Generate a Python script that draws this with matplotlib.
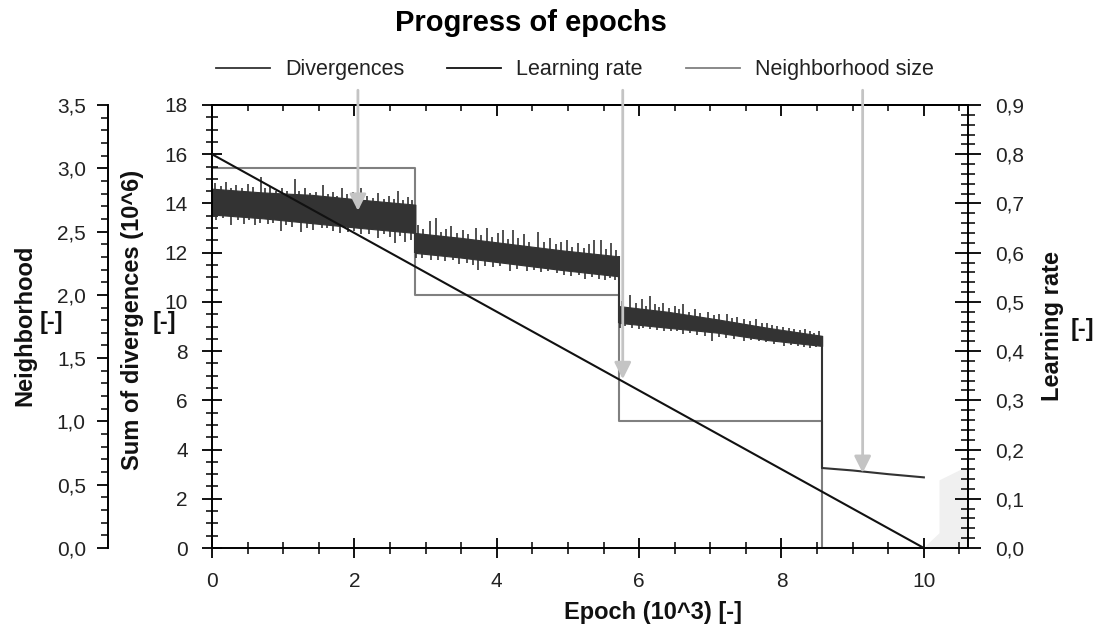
import numpy as np
import matplotlib
matplotlib.use("Agg")
import matplotlib.pyplot as plt
from matplotlib.ticker import MultipleLocator, FuncFormatter
from matplotlib.lines import Line2D

plt.rcParams['font.family'] = ['Liberation Sans', 'DejaVu Sans']

# ---------------- data ----------------
epoch_steps = [0.0, 2.857, 5.714, 8.571, 10.0]      # epoch (10^3)
neigh_levels = [3.0, 2.0, 1.0, 0.0, 0.0]            # neighborhood size

lr_epoch = [0.0, 10.0]
lr_values = [0.8, 0.0]

# divergences: noisy band (core envelope) per phase
seg1_x = [0.0, 0.7, 1.4, 2.1, 2.857]
seg1_hi = [14.6, 14.45, 14.35, 14.15, 13.95]
seg1_lo = [13.55, 13.4, 13.2, 13.0, 12.8]
seg2_x = [2.857, 3.5, 4.2, 4.9, 5.714]
seg2_hi = [12.8, 12.6, 12.35, 12.1, 11.85]
seg2_lo = [11.99, 11.8, 11.55, 11.3, 11.04]
seg3_x = [5.714, 6.4, 7.1, 7.8, 8.571]
seg3_hi = [9.83, 9.6, 9.29, 8.95, 8.62]
seg3_lo = [9.15, 8.95, 8.75, 8.45, 8.21]
seg4_x = [8.571, 9.0, 9.5, 10.0]
seg4_y = [3.25, 3.15, 3.0, 2.87]

# spikes (epoch, tip value)
spike_up_x = [0.04, 0.12, 0.2, 0.27, 0.34, 0.42, 0.5, 0.58, 0.69, 0.74, 0.82, 0.9, 0.98,
              1.06, 1.16, 1.22, 1.30, 1.38, 1.46, 1.56, 1.63, 1.70, 1.76, 1.82, 1.9, 1.98,
              2.04, 2.10, 2.18, 2.26, 2.33, 2.41, 2.48, 2.55, 2.61, 2.68, 2.75, 2.81,
              2.89, 2.96, 3.06, 3.15, 3.22, 3.29, 3.36, 3.44, 3.53, 3.6, 3.71, 3.78, 3.86,
              3.94, 4.02, 4.09, 4.16, 4.23, 4.3, 4.38, 4.46, 4.58, 4.66, 4.75, 4.83, 4.9,
              4.98, 5.06, 5.14, 5.22, 5.29, 5.36, 5.47, 5.54, 5.61, 5.68,
              5.76, 5.87, 5.95, 6.04, 6.1, 6.15, 6.22, 6.28, 6.34, 6.42, 6.5, 6.56, 6.62,
              6.7, 6.78, 6.85, 6.97, 7.05, 7.12, 7.23, 7.3, 7.38, 7.47, 7.56, 7.64, 7.72,
              7.8, 7.87, 7.94, 8.02, 8.1, 8.18, 8.26, 8.33, 8.4, 8.45, 8.52]
spike_up_y = [14.85, 14.72, 14.86, 14.64, 14.74, 14.62, 14.77, 14.65, 15.09, 14.63, 14.71, 14.52, 14.63,
              14.51, 14.99, 14.50, 14.62, 14.41, 14.47, 14.73, 14.38, 14.46, 14.30, 14.64, 14.37, 14.45,
              14.26, 14.62, 14.30, 14.24, 14.42, 14.17, 14.29, 14.20, 14.51, 14.14, 14.27, 14.16,
              13.13, 12.95, 13.27, 13.4, 12.85, 12.95, 13.07, 12.78, 12.93, 12.75, 13.0, 12.7, 13.0,
              12.62, 12.8, 12.93, 12.55, 12.93, 12.6, 12.75, 12.45, 12.86, 12.42, 12.59, 12.35, 12.45,
              12.53, 12.25, 12.4, 12.2, 12.35, 12.53, 12.53, 12.15, 12.39, 12.1,
              10.05, 10.3, 9.95, 10.1, 9.85, 10.23, 9.9, 9.8, 9.96, 9.75, 9.85, 9.7, 9.9,
              9.6, 9.7, 9.55, 9.6, 9.45, 9.5, 9.49, 9.35, 9.4, 9.3, 9.22, 9.3, 9.15,
              9.15, 9.05, 9.02, 9.0, 8.95, 8.9, 8.85, 8.9, 8.8, 8.75, 8.8]
spike_dn_x = [0.06, 0.15, 0.27, 0.36, 0.45, 0.52, 0.60, 0.68, 0.78, 0.86, 0.97, 1.04, 1.12,
              1.25, 1.33, 1.42, 1.54, 1.62, 1.7, 1.8, 1.91, 2.0, 2.10, 2.2, 2.33, 2.42, 2.5,
              2.57, 2.64, 2.71, 2.79,
              2.87, 2.95, 3.08, 3.18, 3.27, 3.39, 3.47, 3.58, 3.66, 3.74, 3.84, 3.95, 4.05,
              4.18, 4.28, 4.42, 4.52, 4.62, 4.72, 4.84, 4.95, 5.05, 5.15, 5.24, 5.34, 5.44,
              5.52, 5.59, 5.66,
              5.73, 5.8, 5.9, 6.0, 6.06, 6.15, 6.25, 6.35, 6.45, 6.53, 6.62, 6.72, 6.82,
              6.92, 7.02, 7.12, 7.22, 7.33, 7.47, 7.57, 7.68, 7.78, 7.9, 8.03, 8.13, 8.23,
              8.32, 8.40, 8.49]
spike_dn_y = [13.33, 13.39, 13.13, 13.31, 13.18, 13.31, 13.11, 13.22, 13.15, 13.20, 12.90, 13.13, 13.04,
              12.86, 13.02, 12.93, 13.0, 13.0, 12.90, 12.78, 12.85, 12.88, 12.75, 12.77, 12.6, 12.77, 12.64,
              12.39, 12.66, 12.45, 12.52,
              11.78, 11.8, 11.72, 11.7, 11.65, 11.72, 11.55, 11.6, 11.5, 11.31, 11.45, 11.4, 11.45,
              11.25, 11.35, 11.25, 11.3, 11.2, 11.25, 11.18, 11.1, 11.05, 11.1, 10.91, 11.0, 10.95,
              10.9, 10.97, 10.9,
              8.95, 9.02, 8.95, 8.9, 8.95, 8.88, 8.85, 8.82, 8.8, 8.82, 8.7, 8.72, 8.65,
              8.6, 8.41, 8.58, 8.55, 8.5, 8.41, 8.45, 8.4, 8.35, 8.3, 8.21, 8.25, 8.2,
              8.18, 8.14, 8.15]

# annotation arrows (epoch, divergence-scale tip)
arrow_x = [2.05, 5.77, 9.14]
arrow_tip = [13.7, 6.86, 3.05]

# light grey patch at lower right
patch_x = [10.0, 10.22, 10.22, 10.55, 10.62, 10.62]
patch_y = [0.0, 0.6, 2.75, 3.22, 3.22, 0.0]

legend_labels = ["Divergences", "Learning rate", "Neighborhood size"]

# ---------------- figure ----------------
W, H = 1103, 636
fig = plt.figure(figsize=(W / 100, H / 100), dpi=100)
L, R, T, B = 212, 968, 105, 548
ax = fig.add_axes([L / W, 1 - B / H, (R - L) / W, (B - T) / H])
ax.set_xlim(0, 10.62)
ax.set_ylim(0, 18)

ax_n = ax.twinx()
ax_n.set_ylim(0, 3.5)
ax_lr = ax.twinx()
ax_lr.set_ylim(0, 0.9)

ax_n.set_zorder(0)
ax.set_zorder(1)
ax_lr.set_zorder(2)
ax.patch.set_visible(False)
ax_n.patch.set_visible(True)
ax_n.patch.set_facecolor('white')

def comma(fmt):
    return FuncFormatter(lambda v, p: fmt.format(v).replace('.', ','))

tick_color = '#222222'
lab_size = 15

# main axis (divergences)
ax.spines['right'].set_visible(False)
for s in ['left', 'top', 'bottom']:
    ax.spines[s].set_linewidth(1.4)
ax.yaxis.set_major_locator(MultipleLocator(2))
ax.yaxis.set_minor_locator(MultipleLocator(0.5))
ax.yaxis.set_major_formatter(comma("{:.0f}"))
ax.xaxis.set_major_locator(MultipleLocator(2))
ax.xaxis.set_minor_locator(MultipleLocator(0.5))
ax.xaxis.set_major_formatter(comma("{:.0f}"))
ax.tick_params(axis='y', which='major', direction='inout', length=15, width=1.3, pad=10,
               labelsize=lab_size, labelcolor=tick_color)
ax.tick_params(axis='y', which='minor', direction='inout', length=8, width=1.1)
ax.tick_params(axis='x', which='major', direction='inout', length=15, width=1.3, pad=10,
               labelsize=lab_size, labelcolor=tick_color)
ax.tick_params(axis='x', which='minor', direction='inout', length=8, width=1.1)

sec = ax.secondary_xaxis('top')
sec.xaxis.set_major_locator(MultipleLocator(2))
sec.xaxis.set_minor_locator(MultipleLocator(0.5))
sec.tick_params(which='major', direction='in', length=8, width=1.3, labeltop=False)
sec.tick_params(which='minor', direction='in', length=4, width=1.1)
sec.spines['top'].set_linewidth(1.4)

# neighborhood axis
for s in ['right', 'top', 'bottom']:
    ax_n.spines[s].set_visible(False)
ax_n.spines['left'].set_visible(True)
ax_n.spines['left'].set_position(('axes', (108 - L) / (R - L)))
ax_n.spines['left'].set_linewidth(1.4)
ax_n.yaxis.set_ticks_position('left')
ax_n.yaxis.set_major_locator(MultipleLocator(0.5))
ax_n.yaxis.set_minor_locator(MultipleLocator(0.1))
ax_n.yaxis.set_major_formatter(comma("{:.1f}"))
ax_n.tick_params(axis='y', which='major', direction='out', length=8, width=1.3, pad=8,
                 labelsize=lab_size, labelcolor=tick_color)
ax_n.tick_params(axis='y', which='minor', direction='out', length=5, width=1.1)

# learning-rate axis
for s in ['left', 'top', 'bottom']:
    ax_lr.spines[s].set_visible(False)
ax_lr.spines['right'].set_linewidth(1.4)
ax_lr.yaxis.set_major_locator(MultipleLocator(0.1))
ax_lr.yaxis.set_minor_locator(MultipleLocator(0.02))
ax_lr.yaxis.set_major_formatter(comma("{:.1f}"))
ax_lr.tick_params(axis='y', which='major', direction='inout', length=19, width=1.3, pad=10,
                  labelsize=lab_size, labelcolor=tick_color)
ax_lr.tick_params(axis='y', which='minor', direction='inout', length=10, width=1.1)

# ---------------- marks ----------------
c_div = '#333333'
c_lr = '#111111'
c_nb = '#808080'

ax_n.step(epoch_steps, neigh_levels, where='post', color=c_nb, lw=1.5, zorder=2)

ax.fill(patch_x, patch_y, color='#f0f0f0', lw=0, zorder=0)

segs = [(seg1_x, seg1_hi, seg1_lo), (seg2_x, seg2_hi, seg2_lo), (seg3_x, seg3_hi, seg3_lo)]
for sx, hi, lo in segs:
    ax.fill_between(sx, lo, hi, color=c_div, lw=0.8, edgecolor=c_div, zorder=2)
# connectors between phases
ax.vlines([epoch_steps[1], epoch_steps[2], epoch_steps[3]],
          [seg2_lo[0], seg3_lo[0], seg4_y[0]],
          [seg1_hi[-1], seg2_hi[-1], seg3_hi[-1]], color=c_div, lw=1.5, zorder=2)
ax.plot(seg4_x, seg4_y, color=c_div, lw=1.5, zorder=2)

def band_mid(x):
    for sx, hi, lo in segs:
        if sx[0] <= x <= sx[-1]:
            return (np.interp(x, sx, hi) + np.interp(x, sx, lo)) / 2
    return x

ax.vlines(spike_up_x, [band_mid(x) for x in spike_up_x], spike_up_y, color=c_div, lw=1.2, zorder=2)
ax.vlines(spike_dn_x, [band_mid(x) for x in spike_dn_x], spike_dn_y, color=c_div, lw=1.2, zorder=2)

ax_lr.plot(lr_epoch, lr_values, color=c_lr, lw=1.5, zorder=3)

# arrows
for xa, yt in zip(arrow_x, arrow_tip):
    ax_lr.annotate('', xy=(xa, yt), xycoords=ax.transData,
                   xytext=(xa, 18.6), textcoords=ax.transData,
                   arrowprops=dict(arrowstyle='-|>', color='#c4c4c4', lw=2,
                                   mutation_scale=25, shrinkA=0, shrinkB=0),
                   annotation_clip=False, zorder=5)

# ---------------- texts ----------------
def px(x, y):
    return x / W, 1 - y / H

fig.text(*px(531, 23), "Progress of epochs", ha='center', va='center',
         fontsize=21, fontweight='bold')

handles = [Line2D([], [], color=c_div, lw=1.3),
           Line2D([], [], color=c_lr, lw=1.3),
           Line2D([], [], color=c_nb, lw=1.3)]
fig.legend(handles, legend_labels, loc='center', bbox_to_anchor=px(575, 70), ncol=3,
           frameon=False, fontsize=15.5, handlelength=2.5, handletextpad=0.7,
           columnspacing=2.0, labelcolor='#222222')

lab_kw = dict(fontsize=17, fontweight='bold', color='#111111')
fig.text(*px(25, 325), "Neighborhood", rotation=90, ha='center', va='center', **lab_kw)
fig.text(*px(51, 322), "[-]", ha='center', va='center', **lab_kw)
fig.text(*px(133, 320), "Sum of divergences (10^6)", rotation=90, ha='center', va='center', **lab_kw)
fig.text(*px(164, 322), "[-]", ha='center', va='center', **lab_kw)
fig.text(*px(1053, 326), "Learning rate", rotation=90, ha='center', va='center', **lab_kw)
fig.text(*px(1082, 329), "[-]", ha='center', va='center', **lab_kw)
fig.text(*px(653, 612), "Epoch (10^3) [-]", ha='center', va='center', **lab_kw)

fig.savefig("out.png", dpi=100)
